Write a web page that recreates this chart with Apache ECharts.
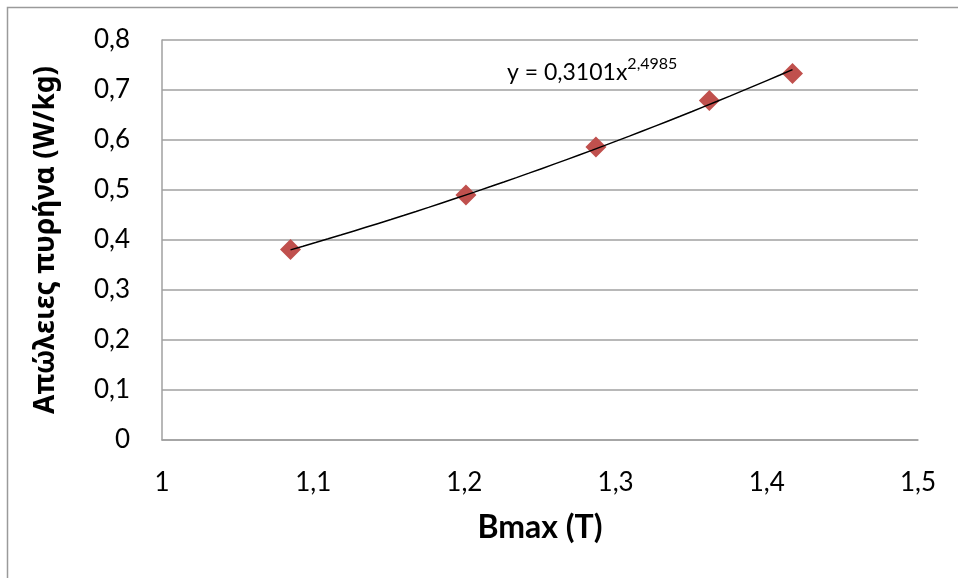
<!DOCTYPE html>
<html>
<head>
<meta charset="utf-8">
<script src="https://cdn.jsdelivr.net/npm/echarts@6/dist/echarts.min.js"></script>
<style>
  html, body { margin: 0; padding: 0; background: #fff; }
  #chart { width: 958px; height: 578px; }
</style>
</head>
<body>
<div id="chart"></div>
<script>
// Measured core losses against peak flux density
const bmax = [1.085, 1.201, 1.287, 1.362, 1.417];
const losses = [0.381, 0.490, 0.586, 0.679, 0.733];

// Power-law fit y = a * x^b
const fitA = 0.3101;
const fitB = 2.4985;

const xTicks = { min: 1, max: 1.5, step: 0.1 };
const yTicks = { min: 0, max: 0.8, step: 0.1 };

const xTitle = 'Bmax (T)';
const yTitle = 'Απώλειες πυρήνα (W/kg)';

const fmtComma = v => String(Number(v.toFixed(1))).replace('.', ',');

// Fit curve across the measured range
const fitPts = [];
const n = 40;
const x0 = bmax[0], x1 = bmax[bmax.length - 1];
for (let i = 0; i <= n; i++) {
  const x = x0 + (x1 - x0) * i / n;
  fitPts.push([x, fitA * Math.pow(x, fitB)]);
}

const font = 'Lato, "Open Sans", sans-serif';
const greekFont = '"Noto Sans", "Open Sans", sans-serif';
const chart = echarts.init(document.getElementById('chart'), null, { renderer: 'canvas' });

chart.setOption({
  backgroundColor: '#ffffff',
  animation: false,
  grid: { left: 162, right: 40, top: 40, bottom: 138, containLabel: false },
  xAxis: {
    type: 'value',
    min: xTicks.min, max: xTicks.max, interval: xTicks.step,
    name: xTitle, nameLocation: 'middle', nameGap: 72,
    nameTextStyle: { fontFamily: font, fontSize: 32, fontWeight: 'bold', color: '#000' },
    axisLine: { show: true, lineStyle: { color: '#a0a0a0', width: 1.5 } },
    axisTick: { show: false },
    splitLine: { show: false },
    axisLabel: { formatter: fmtComma, fontFamily: font, fontSize: 26, color: '#000', margin: 30 }
  },
  yAxis: {
    type: 'value',
    min: yTicks.min, max: yTicks.max, interval: yTicks.step,
    name: yTitle, nameLocation: 'middle', nameGap: 102, nameRotate: 90,
    nameTextStyle: { fontFamily: greekFont, fontSize: 28, fontWeight: 'bold', color: '#000' },
    axisLine: { show: true, lineStyle: { color: '#a0a0a0', width: 1.5 } },
    axisTick: { show: false },
    splitLine: { show: true, lineStyle: { color: '#a0a0a0', width: 1.5 } },
    axisLabel: { formatter: fmtComma, fontFamily: font, fontSize: 26, color: '#000', margin: 32 }
  },
  series: [
    {
      type: 'line',
      data: fitPts,
      showSymbol: false,
      symbol: 'none',
      smooth: false,
      lineStyle: { color: '#000', width: 1.5 },
      z: 3
    },
    {
      type: 'scatter',
      data: bmax.map((x, i) => [x, losses[i]]),
      symbol: 'diamond',
      symbolSize: [21, 21],
      itemStyle: { color: '#c0504d', opacity: 1 },
      z: 2
    }
  ],
  graphic: [
    {
      type: 'polyline',
      shape: { points: [[7.5, 600], [7.5, 7.5], [970, 7.5]] },
      style: { stroke: '#9a9a9a', lineWidth: 1.5, fill: null },
      silent: true
    },
    {
      type: 'text',
      left: 507, top: 56,
      style: {
        text: '{b|y = 0,3101x}{s|2,4985}',
        rich: {
          b: { fontFamily: font, fontSize: 23, fill: '#000', verticalAlign: 'bottom' },
          s: { fontFamily: font, fontSize: 16, fill: '#000', verticalAlign: 'top', padding: [0, 0, 12, 0] }
        }
      }
    }
  ]
});
</script>
</body>
</html>
